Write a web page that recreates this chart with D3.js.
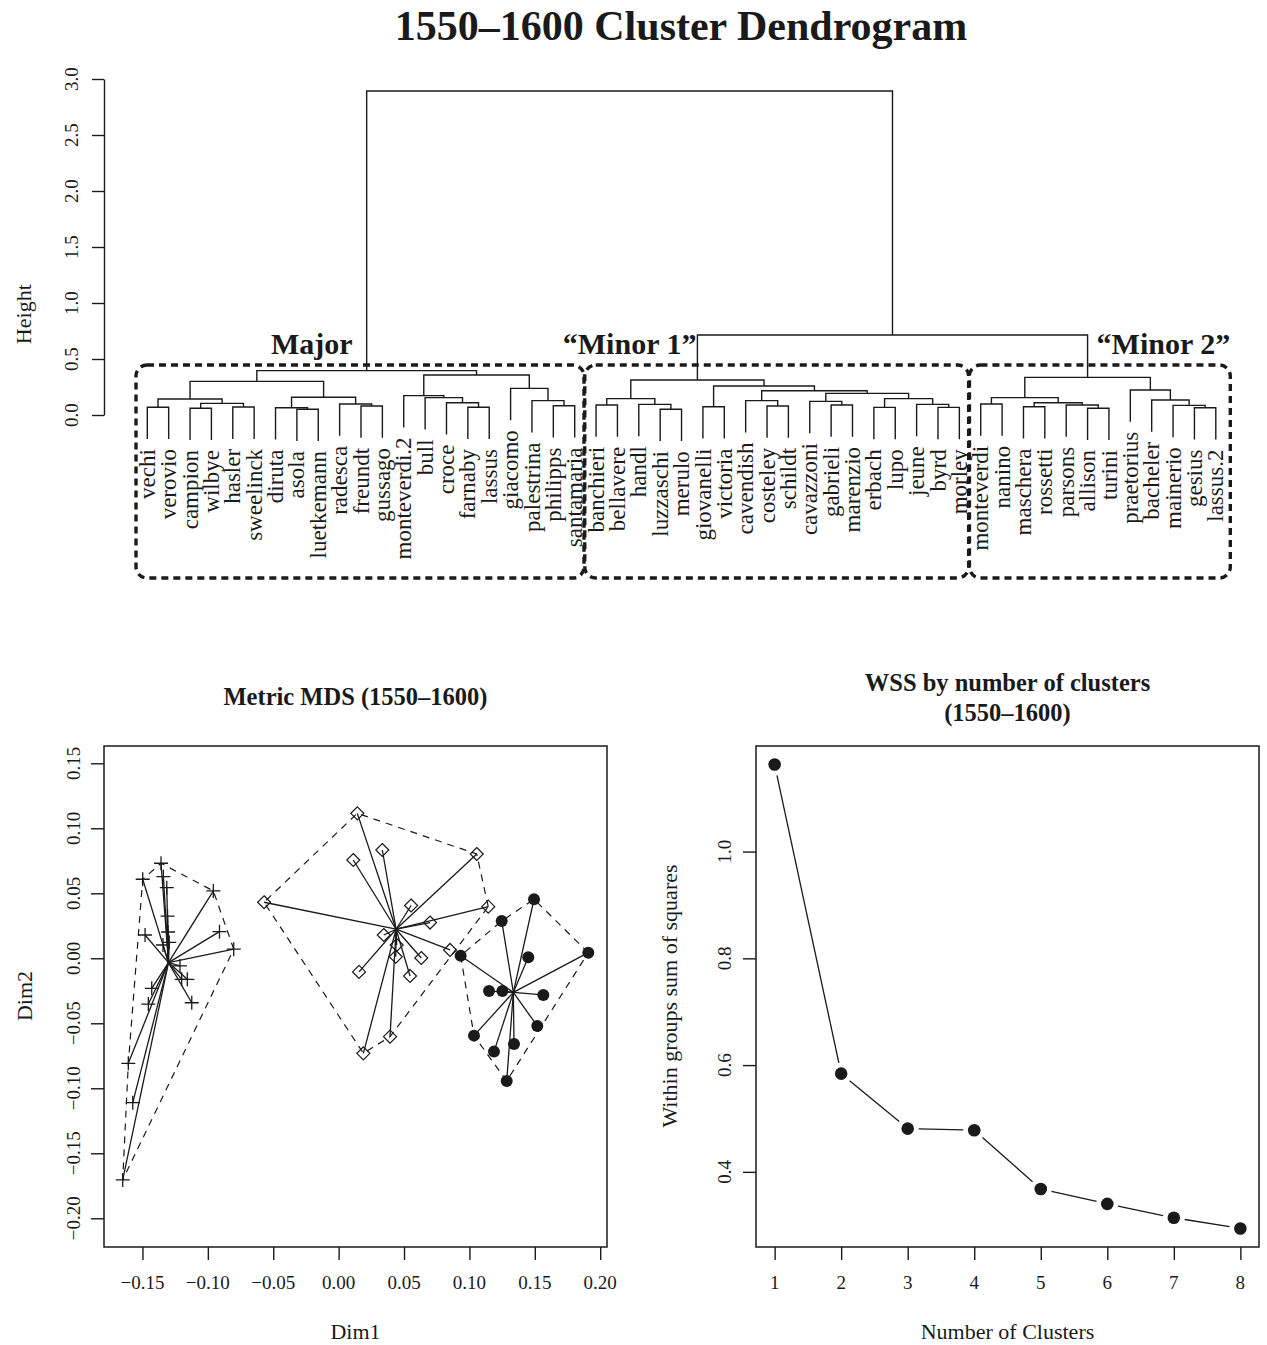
<!DOCTYPE html>
<html>
<head>
<meta charset="utf-8">
<script src="https://cdn.jsdelivr.net/npm/d3@7"></script>
<style>
  body { margin: 0; background: #fff; }
  text { font-family: "Liberation Serif", "Times New Roman", serif; fill: #1a1a1a; }
</style>
</head>
<body>
<svg id="chart" width="1267" height="1345"></svg>
<script>
// ---------- dendrogram data ----------
const leafLabels = ["vechi","verovio","campion","wilbye","hasler","sweelinck","diruta","asola","luetkemann",
  "radesca","freundt","gussago","monteverdi.2","bull","croce","farnaby","lassus","giacomo","palestrina",
  "philipps","santamaria","banchieri","bellavere","handl","luzzaschi","merulo","giovanelli","victoria",
  "cavendish","costeley","schildt","cavazzoni","gabrieli","marenzio","erbach","lupo","jeune","byrd","morley",
  "monteverdi","nanino","maschera","rossetti","parsons","allison","turini","praetorius","bacheler",
  "mainerio","gesius","lassus.2"];

// merge steps: [left, right, height]; strings are leaves, numbers refer to earlier merge rows
const merges = [
  ["vechi","verovio",0.069], ["campion","wilbye",0.060], ["hasler","sweelinck",0.071], [1,2,0.104], [0,3,0.143],
  ["asola","luetkemann",0.051], ["diruta",5,0.065], ["freundt","gussago",0.080], ["radesca",7,0.098], [6,8,0.158],
  [4,9,0.300], ["farnaby","lassus",0.069], ["croce",11,0.110], ["bull",12,0.155], ["monteverdi.2",13,0.173],
  ["philipps","santamaria",0.083], ["palestrina",15,0.128], ["giacomo",16,0.238], [14,17,0.357], [10,18,0.396],
  ["banchieri","bellavere",0.089], ["luzzaschi","merulo",0.051], ["handl",21,0.095], [20,22,0.146],
  ["giovanelli","victoria",0.074], ["costeley","schildt",0.080], ["cavendish",25,0.128],
  ["gabrieli","marenzio",0.089], ["cavazzoni",27,0.122], ["erbach","lupo",0.068], ["byrd","morley",0.068],
  ["jeune",30,0.095], [29,31,0.146], [28,32,0.193], [26,33,0.217], [24,34,0.259], [23,35,0.313],
  ["monteverdi","nanino",0.098], ["maschera","rossetti",0.074], ["allison","turini",0.060], ["parsons",39,0.089],
  [38,40,0.110], [37,41,0.155], ["gesius","lassus.2",0.065], ["mainerio",43,0.086], ["bacheler",44,0.134],
  ["praetorius",45,0.223], [42,46,0.336], [36,47,0.714], [19,48,2.893]
];

const heightTicks = [0, 0.5, 1.0, 1.5, 2.0, 2.5, 3.0];

// cluster groups on the dendrogram: [label, first leaf, last leaf]
const clusterGroups = [
  ["Major", "vechi", "santamaria"],
  ["\u201CMinor 1\u201D", "banchieri", "morley"],
  ["\u201CMinor 2\u201D", "monteverdi", "lassus.2"]
];

// ---------- MDS data (Dim1, Dim2) ----------
const majorPts = [
  [-0.1358,0.0731],[-0.1340,0.0628],[-0.1314,0.0543],[-0.1498,0.0608],[-0.0958,0.0518],[-0.0911,0.0205],
  [-0.0802,0.0070],[-0.1480,0.0179],[-0.1308,0.0325],[-0.1304,0.0202],[-0.1295,0.0123],[-0.1213,-0.0059],
  [-0.1157,-0.0162],[-0.1200,-0.0162],[-0.1123,-0.0342],[-0.1429,-0.0231],[-0.1455,-0.0352],
  [-0.1608,-0.0808],[-0.1574,-0.1111],[-0.1651,-0.1705],[-0.1343,0.0102]
];
const minor1Pts = [
  [0.0143,0.1115],[0.0334,0.0833],[0.0112,0.0756],[0.1056,0.0802],[-0.0570,0.0431],[0.0554,0.0406],
  [0.1144,0.0397],[0.0699,0.0275],[0.0345,0.0179],[0.0444,0.0102],[0.0437,0.0012],[0.0632,0.0002],
  [0.0852,0.0064],[0.0156,-0.0105],[0.0546,-0.0136],[0.0393,-0.0603],[0.0189,-0.0731]
];
const minor2Pts = [
  [0.1494,0.0454],[0.1247,0.0287],[0.1909,0.0043],[0.1450,0.0008],[0.0933,0.0020],[0.1150,-0.0252],
  [0.1252,-0.0252],[0.1565,-0.0282],[0.1519,-0.0521],[0.1035,-0.0595],[0.1188,-0.0718],[0.1341,-0.0659],
  [0.1285,-0.0944]
];
const mdsXLim = [-0.1794, 0.2052];
const mdsYLim = [-0.2221, 0.1633];
const dim1Ticks = [-0.15,-0.10,-0.05,0.00,0.05,0.10,0.15,0.20];
const dim2Ticks = [-0.20,-0.15,-0.10,-0.05,0.00,0.05,0.10,0.15];

// ---------- WSS data ----------
const nClusters = [1,2,3,4,5,6,7,8];
const wssValues = [1.163,0.584,0.481,0.478,0.368,0.340,0.314,0.294];
const wssYTicks = [0.4,0.6,0.8,1.0];

// ---------- drawing ----------
const svg = d3.select("#chart");
const INK = "#1a1a1a";
const minus = s => s.replace("-", "\u2212");

// main title
svg.append("text").attr("x", 681).attr("y", 40).attr("text-anchor", "middle")
  .attr("font-size", 42).attr("font-weight", "bold").text("1550\u20131600 Cluster Dendrogram");

// --- dendrogram ---
const nLeaf = leafLabels.length;
const xLeaf = d3.scaleLinear().domain([0, nLeaf - 1]).range([147.3, 1215.8]);
const yH = d3.scaleLinear().domain([0, 3]).range([415, 79]);
const hang = 0.1 * (d3.max(merges, d => d[2]) - d3.min(merges, d => d[2]));

const dendro = svg.append("g");
const nodes = [];
const leafBottom = {};
function childOf(ref, h) {
  if (typeof ref === "string") {
    const i = leafLabels.indexOf(ref);
    leafBottom[ref] = h - hang;
    return { x: xLeaf(i), h: h - hang };
  }
  return nodes[ref];
}
merges.forEach((m, i) => {
  const h = m[2];
  const a = childOf(m[0], h), b = childOf(m[1], h);
  dendro.append("path")
    .attr("d", `M${a.x},${yH(a.h)}V${yH(h)}H${b.x}V${yH(b.h)}`)
    .attr("fill", "none").attr("stroke", INK).attr("stroke-width", 1.4);
  nodes[i] = { x: (a.x + b.x) / 2, h: h };
});

dendro.selectAll("text.leaf").data(leafLabels).join("text")
  .attr("class", "leaf")
  .attr("transform", (d, i) => `translate(${xLeaf(i)},${yH(leafBottom[d]) + 10}) rotate(-90)`)
  .attr("dy", "0.33em").attr("text-anchor", "end").attr("font-size", 23)
  .text(d => d);

// height axis
const hAxis = svg.append("g").attr("transform", "translate(104,0)")
  .call(d3.axisLeft(yH).tickValues(heightTicks).tickFormat("").tickSize(12).tickSizeOuter(0));
hAxis.selectAll("path,line").attr("stroke", INK).attr("stroke-width", 1.4);
svg.selectAll("text.htick").data(heightTicks).join("text").attr("class", "htick")
  .attr("transform", d => `translate(78,${yH(d)}) rotate(-90)`)
  .attr("text-anchor", "middle").attr("font-size", 19).text(d => d.toFixed(1));
svg.append("text").attr("transform", `translate(31,${yH(0.9)}) rotate(-90)`)
  .attr("text-anchor", "middle").attr("font-size", 22).text("Height");

// dashed cluster boxes and their labels
const boxTop = 365, boxBottom = 578;
clusterGroups.forEach(([name, first, last], gi) => {
  const i0 = leafLabels.indexOf(first), i1 = leafLabels.indexOf(last);
  const left = xLeaf(i0) - 11.3, right = xLeaf(i1) + (gi === clusterGroups.length - 1 ? 14.5 : 9.3);
  svg.append("rect").attr("x", left).attr("y", boxTop).attr("width", right - left)
    .attr("height", boxBottom - boxTop).attr("rx", 11).attr("ry", 11)
    .attr("fill", "none").attr("stroke", INK).attr("stroke-width", 3.4)
    .attr("stroke-dasharray", "7,5");
});
const groupNodes = [19, 36, 47];
const lab = (t, x, anchor) => svg.append("text").attr("x", x).attr("y", 354)
  .attr("text-anchor", anchor).attr("font-size", 30).attr("font-weight", "bold").text(t);
lab(clusterGroups[0][0], nodes[groupNodes[0]].x - 14, "end");
lab(clusterGroups[1][0], nodes[groupNodes[1]].x - 1, "end");
lab(clusterGroups[2][0], nodes[groupNodes[2]].x + 9, "start");

// --- MDS panel ---
const mx = d3.scaleLinear().domain(mdsXLim).range([104, 607]);
const my = d3.scaleLinear().domain(mdsYLim).range([1247, 746]);
const mds = svg.append("g");

svg.append("text").attr("x", 355.5).attr("y", 705).attr("text-anchor", "middle")
  .attr("font-size", 24.5).attr("font-weight", "bold").text("Metric MDS (1550\u20131600)");

const groups = [
  { pts: majorPts, shape: "plus" },
  { pts: minor1Pts, shape: "diamond" },
  { pts: minor2Pts, shape: "dot" }
];
groups.forEach(g => {
  const px = g.pts.map(p => [mx(p[0]), my(p[1])]);
  const cx = mx(d3.mean(g.pts, p => p[0])), cy = my(d3.mean(g.pts, p => p[1]));
  const hull = d3.polygonHull(px);
  mds.append("path").attr("d", "M" + hull.join("L") + "Z")
    .attr("fill", "none").attr("stroke", INK).attr("stroke-width", 1.2).attr("stroke-dasharray", "7,6");
  mds.append("g").selectAll("line").data(px).join("line")
    .attr("x1", cx).attr("y1", cy).attr("x2", d => d[0]).attr("y2", d => d[1])
    .attr("stroke", INK).attr("stroke-width", 1.3);
  const mk = mds.append("g").selectAll("g").data(px).join("g")
    .attr("transform", d => `translate(${d[0]},${d[1]})`);
  if (g.shape === "plus") {
    mk.append("path").attr("d", "M-7,0H7M0,-7V7").attr("stroke", INK).attr("stroke-width", 1.3);
  } else if (g.shape === "diamond") {
    mk.append("path").attr("d", "M0,-6.5L6.5,0L0,6.5L-6.5,0Z").attr("fill", "none")
      .attr("stroke", INK).attr("stroke-width", 1.2);
  } else {
    mk.append("circle").attr("r", 6).attr("fill", INK);
  }
});

mds.append("rect").attr("x", 104).attr("y", 746).attr("width", 503).attr("height", 501)
  .attr("fill", "none").attr("stroke", INK).attr("stroke-width", 1.5);
const mxAxis = svg.append("g").attr("transform", "translate(0,1247)")
  .call(d3.axisBottom(mx).tickValues(dim1Ticks).tickFormat("").tickSize(13).tickSizeOuter(0));
mxAxis.select(".domain").remove();
mxAxis.selectAll("line").attr("stroke", INK).attr("stroke-width", 1.4);
svg.selectAll("text.d1").data(dim1Ticks).join("text").attr("class", "d1")
  .attr("x", d => mx(d)).attr("y", 1289).attr("text-anchor", "middle").attr("font-size", 19)
  .text(d => minus(d.toFixed(2)));
const myAxis = svg.append("g").attr("transform", "translate(104,0)")
  .call(d3.axisLeft(my).tickValues(dim2Ticks).tickFormat("").tickSize(13).tickSizeOuter(0));
myAxis.select(".domain").remove();
myAxis.selectAll("line").attr("stroke", INK).attr("stroke-width", 1.4);
svg.selectAll("text.d2").data(dim2Ticks).join("text").attr("class", "d2")
  .attr("transform", d => `translate(80,${my(d)}) rotate(-90)`).attr("text-anchor", "middle")
  .attr("font-size", 19).text(d => minus(d.toFixed(2)));
svg.append("text").attr("x", 355.5).attr("y", 1339).attr("text-anchor", "middle")
  .attr("font-size", 22).text("Dim1");
svg.append("text").attr("transform", "translate(32,996) rotate(-90)").attr("text-anchor", "middle")
  .attr("font-size", 22).text("Dim2");

// --- WSS panel ---
const pad = (ext) => { const r = ext[1] - ext[0]; return [ext[0] - 0.04 * r, ext[1] + 0.04 * r]; };
const wx = d3.scaleLinear().domain(pad(d3.extent(nClusters))).range([756, 1259]);
const wy = d3.scaleLinear().domain(pad(d3.extent(wssValues))).range([1247, 746]);
const wss = svg.append("g");

svg.append("text").attr("x", 1007.5).attr("y", 691).attr("text-anchor", "middle")
  .attr("font-size", 24.5).attr("font-weight", "bold").text("WSS by number of clusters");
svg.append("text").attr("x", 1007.5).attr("y", 721).attr("text-anchor", "middle")
  .attr("font-size", 24.5).attr("font-weight", "bold").text("(1550\u20131600)");

const wpts = nClusters.map((k, i) => [wx(k), wy(wssValues[i])]);
const gap = 11;
d3.pairs(wpts).forEach(([a, b]) => {
  const dx = b[0] - a[0], dy = b[1] - a[1], L = Math.hypot(dx, dy);
  if (L <= 2 * gap) return;
  const ux = dx / L, uy = dy / L;
  wss.append("line").attr("x1", a[0] + ux * gap).attr("y1", a[1] + uy * gap)
    .attr("x2", b[0] - ux * gap).attr("y2", b[1] - uy * gap)
    .attr("stroke", INK).attr("stroke-width", 1.3);
});
wss.selectAll("circle").data(wpts).join("circle")
  .attr("cx", d => d[0]).attr("cy", d => d[1]).attr("r", 6.3).attr("fill", INK);

wss.append("rect").attr("x", 756).attr("y", 746).attr("width", 503).attr("height", 501)
  .attr("fill", "none").attr("stroke", INK).attr("stroke-width", 1.5);
const wxAxis = svg.append("g").attr("transform", "translate(0,1247)")
  .call(d3.axisBottom(wx).tickValues(nClusters).tickFormat("").tickSize(13).tickSizeOuter(0));
wxAxis.select(".domain").remove();
wxAxis.selectAll("line").attr("stroke", INK).attr("stroke-width", 1.4);
svg.selectAll("text.wx").data(nClusters).join("text").attr("class", "wx")
  .attr("x", d => wx(d)).attr("y", 1289).attr("text-anchor", "middle").attr("font-size", 19).text(d => d);
const wyAxis = svg.append("g").attr("transform", "translate(756,0)")
  .call(d3.axisLeft(wy).tickValues(wssYTicks).tickFormat("").tickSize(13).tickSizeOuter(0));
wyAxis.select(".domain").remove();
wyAxis.selectAll("line").attr("stroke", INK).attr("stroke-width", 1.4);
svg.selectAll("text.wy").data(wssYTicks).join("text").attr("class", "wy")
  .attr("transform", d => `translate(731,${wy(d)}) rotate(-90)`).attr("text-anchor", "middle")
  .attr("font-size", 19).text(d => d.toFixed(1));
svg.append("text").attr("x", 1007.5).attr("y", 1339).attr("text-anchor", "middle")
  .attr("font-size", 22).text("Number of Clusters");
svg.append("text").attr("transform", "translate(677,996) rotate(-90)").attr("text-anchor", "middle")
  .attr("font-size", 22).text("Within groups sum of squares");
</script>
</body>
</html>
